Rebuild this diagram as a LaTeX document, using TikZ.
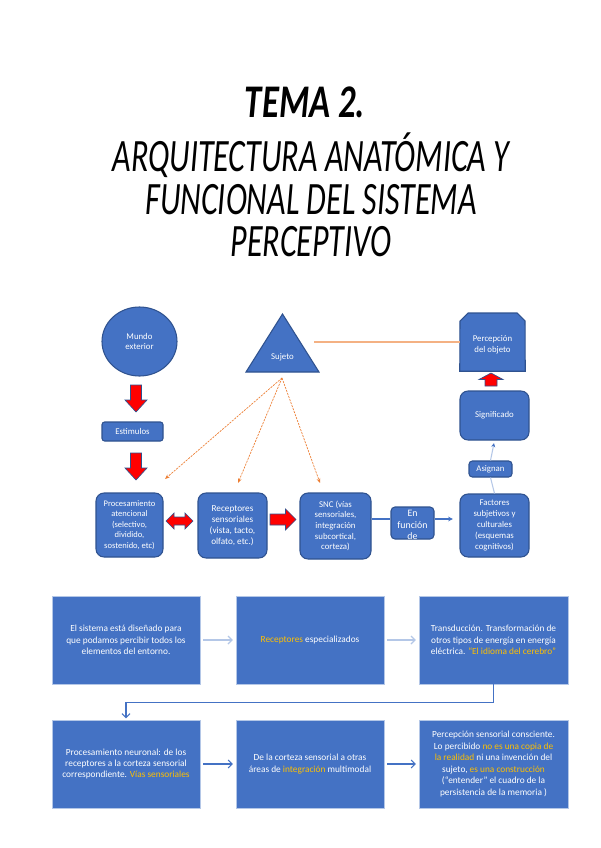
\documentclass[tikz,border=0pt]{standalone}
\usepackage{fontspec}
\setmainfont{Carlito}
\newfontfamily\titlefont{Carlito}
\usetikzlibrary{arrows.meta,fit,shapes.geometric}
\definecolor{obl}{HTML}{4472C4}
\definecolor{obd}{HTML}{2F528F}
\definecolor{obpale}{HTML}{B4C7E7}
\definecolor{oorange}{HTML}{ED7D31}
\definecolor{olor}{HTML}{F4B183}
\definecolor{ogold}{HTML}{FFC000}
\definecolor{ored}{HTML}{FF0000}
\begin{document}
\begin{tikzpicture}[x=0.75pt,y=-0.75pt,
  topbox/.style={fill=obl,draw=obd,line width=0.8pt,rounded corners=6pt,inner sep=0pt,text=white,align=center,font=\fontsize{6.6}{8}\selectfont},
  botbox/.style={fill=obl,draw=obpale,line width=0.6pt,inner sep=0pt,text=white,align=center,font=\fontsize{7}{8.6}\selectfont},
  whitetext/.style={text=white,align=center,font=\fontsize{6.6}{8}\selectfont},
  redarrow/.style={fill=ored,draw=obd,line width=0.5pt},
  orangearrow/.style={oorange,line width=0.5pt,dash pattern=on 1.6pt off 0.8pt,-{Stealth[length=3.5pt,width=2.8pt]}},
  blueline/.style={obl,line width=0.9pt},
  palearrow/.style={obpale,line width=1pt,-{Straight Barb[length=3pt,width=6pt]},shorten <=2pt,shorten >=2pt},
  bluearrow/.style={obl,line width=0.8pt,-{Straight Barb[length=3pt,width=6pt]},shorten <=2pt,shorten >=2pt},
  titlestyle/.style={font=\titlefont\itshape\fontsize{24}{24}\selectfont,anchor=base}
]
\useasboundingbox (0,0) rectangle (600,848);
\fill[white] (0,0) rectangle (600,848);

% ---------- title ----------
\node[titlestyle,font=\titlefont\itshape\bfseries\fontsize{26}{26}\selectfont] (t1) at (305,118) {\scalebox{1}[1.35]{TEMA 2.}};
\node[titlestyle] (t2) at (311,172) {\scalebox{1}[1.45]{ARQUITECTURA ANATÓMICA Y}};
\node[titlestyle] (t3) at (311,215) {\scalebox{1}[1.45]{FUNCIONAL DEL SISTEMA}};
\node[titlestyle] (t4) at (311,257) {\scalebox{1}[1.45]{PERCEPTIVO}};

% ---------- top diagram ----------
\node[topbox,ellipse,minimum width=56.25pt,minimum height=51.75pt] (mundo) at (139.5,341.5) {Mundo\\exterior};

\draw[fill=obl,draw=obd,line width=0.8pt] (246,372) -- (282.5,314) -- (319,372) -- cycle;
\node[whitetext] (suj) at (282.5,357) {Sujeto};
\coordinate (sujpt) at (282,378);
\coordinate (sujr) at (314,342);

\node[fit={(460,313) (525,371)},inner sep=0pt] (perc) {};
\draw[fill=obl,draw=obd,line width=0.8pt] (perc.south west) -- (460,321) -- (468,313) -- (517,313) -- (525,321) -- (perc.south east) -- cycle;
\node[whitetext] (perctext) at (492.5,345) {Percepción\\del objeto};

\draw[olor,line width=1.3pt] (sujr) -- (sujr -| perc.west);

\draw[redarrow] (485,386) -- (485,379.5) -- (479,379.5) -- (491,373) -- (503,379.5) -- (497,379.5) -- (497,386) -- cycle;

\node[topbox,fit={(460,391) (529,440)}] (sig) {};
\node[whitetext] at (sig.center) {Significado};
\node[topbox,rounded corners=2.5pt,fit={(469,461) (512,477)}] (asig) {};
\node[whitetext] at (asig.center) {Asignan};
\node[topbox,fit={(460,494) (529,557)}] (fact) {};
\node[whitetext,font=\fontsize{6.6}{8.4}\selectfont] at (fact.center) {Factores\\subjetivos y\\culturales\\(esquemas\\cognitivos)};

\draw[obpale,line width=0.8pt] (fact.north) -- (asig.south);
\draw[obpale,line width=0.8pt,-{Stealth[length=3pt,width=3pt,color=obl]},shorten >=2pt] (asig.north) -- (sig.south);

\node[topbox,rounded corners=3pt,fit={(391,507) (434,539)}] (enf) {};
\node[whitetext,font=\fontsize{7.4}{8.4}\selectfont] at (412.5,525) {En\\función\\de};

\node[topbox,fit={(300,493) (371,559)}] (snc) {};
\node[whitetext] at (snc.center) {SNC (vías\\sensoriales,\\integración\\subcortical,\\corteza)};
\node[topbox,fit={(198,493) (267,558)}] (rec) {};
\node[whitetext,font=\fontsize{6.9}{8.2}\selectfont] at (rec.center) {Receptores\\sensoriales\\(vista, tacto,\\olfato, etc.)};
\node[topbox,fit={(96,493) (163,557)}] (proc) {};
\node[whitetext,font=\fontsize{6.4}{7.8}\selectfont] at (proc.center) {Procesamiento\\atencional\\(selectivo,\\dividido,\\sostenido, etc)};
\node[topbox,rounded corners=2pt,fit={(102,422) (163,441)}] (est) {};
\node[whitetext] at (est.center) {Estimulos};

\draw[blueline] (snc.east |- 0,519) -- (enf.west |- 0,519);
\draw[blueline,-{Stealth[length=3.5pt,width=3.5pt]},shorten >=5pt] (enf.east |- 0,519) -- (fact.west |- 0,519);

% red block arrows
\draw[redarrow] (130.5,385) -- (141.5,385) -- (141.5,400) -- (147,400) -- (136,412) -- (125,400) -- (130.5,400) -- cycle;
\draw[redarrow] (130.5,453) -- (141.5,453) -- (141.5,468) -- (147,468) -- (136,480) -- (125,468) -- (130.5,468) -- cycle;
\draw[redarrow] (166,521) -- (174,513) -- (174,517) -- (185,517) -- (185,513) -- (193,521) -- (185,529) -- (185,525) -- (174,525) -- (174,529) -- cycle;
\draw[redarrow] (270,514) -- (285.5,514) -- (285.5,509) -- (296,519.5) -- (285.5,530) -- (285.5,525) -- (270,525) -- cycle;

% orange dashed arrows from Sujeto
\coordinate (o1) at (165,479);
\coordinate (o2) at (238,483);
\coordinate (o3) at (320,483);
\draw[orangearrow] (sujpt) -- (o1);
\draw[orangearrow] (sujpt) -- (o2);
\draw[orangearrow] (sujpt) -- (o3);

% ---------- bottom boxes ----------
\node[botbox,fit={(52,596) (200,684)}] (b1) {};
\node[botbox,fit={(236,596) (384,684)}] (b2) {};
\node[botbox,fit={(419,596) (568,684)}] (b3) {};
\node[botbox,fit={(52,720) (200,808)}] (b4) {};
\node[botbox,fit={(236,720) (384,808)}] (b5) {};
\node[botbox,fit={(419,720) (568,808)}] (b6) {};

\node[botbox,fill=none,draw=none] at (b1.center) {El sistema está diseñado para\\que podamos percibir todos los\\elementos del entorno.};
\node[botbox,fill=none,draw=none] at (b2.center) {{\color{ogold}Receptores} especializados};
\node[botbox,fill=none,draw=none] at (b3.center) {Transducción. Transformación de\\otros tipos de energía en energía\\eléctrica. {\color{ogold}“El idioma del cerebro”}};
\node[botbox,fill=none,draw=none] at (b4.center) {Procesamiento neuronal: de los\\receptores a la corteza sensorial\\correspondiente. {\color{ogold}Vías sensoriales}};
\node[botbox,fill=none,draw=none] at (b5.center) {De la corteza sensorial a otras\\áreas de {\color{ogold}integración} multimodal};
\node[botbox,fill=none,draw=none] at (b6.center) {Percepción sensorial consciente.\\Lo percibido {\color{ogold}no es una copia de}\\{\color{ogold}la realidad} ni una invención del\\sujeto, {\color{ogold}es una construcción}\\(“entender” el cuadro de la\\persistencia de la memoria )};

\draw[palearrow] (b1.east) -- (b2.west);
\draw[palearrow] (b2.east) -- (b3.west);
\draw[bluearrow] (b4.east) -- (b5.west);
\draw[bluearrow] (b5.east) -- (b6.west);
\draw[obl,line width=0.8pt,-{Straight Barb[length=3pt,width=6pt]},shorten >=1pt] (b3.south) -- ++(0,18) -| (b4.north);
\end{tikzpicture}
\end{document}
